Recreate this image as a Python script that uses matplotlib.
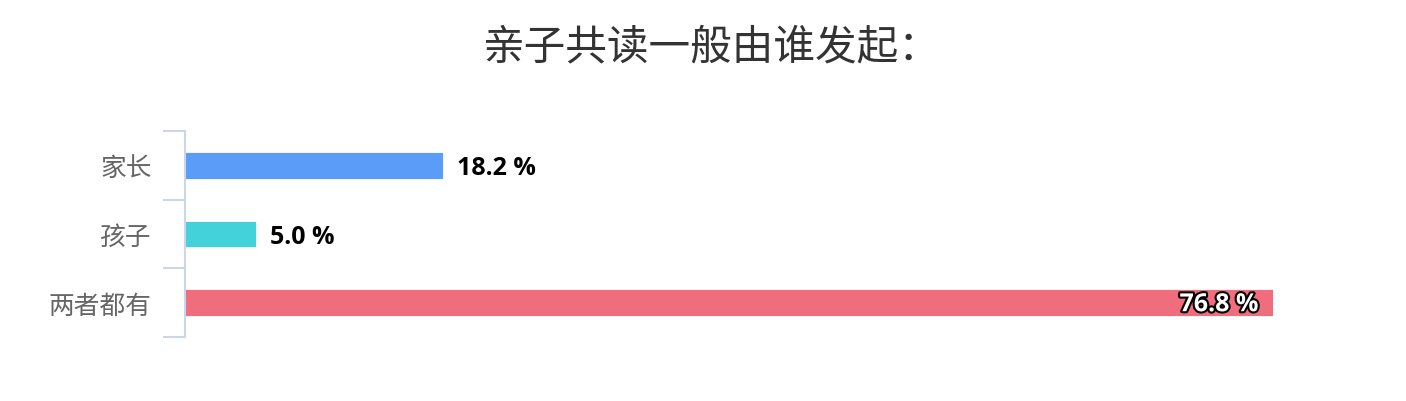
import matplotlib.pyplot as plt
import matplotlib.patheffects as pe

plt.rcParams['font.family'] = ['Noto Sans CJK SC', 'DejaVu Sans']

categories = ['家长', '孩子', '两者都有']
values = [18.2, 5.0, 76.8]
colors = ['#5a9cf8', '#43d1da', '#f06d7e']
title = '亲子共读一般由谁发起：'

fig = plt.figure(figsize=(14.06, 4.02), dpi=100)
ax = fig.add_axes([185 / 1406, 1 - 338 / 402, (1273 - 185) / 1406, (338 - 132) / 402])

y = list(range(len(categories)))
ax.barh(y, values, height=0.39, color=colors, edgecolor='white', linewidth=0.6)
ax.set_ylim(len(categories) - 0.5, -0.5)
ax.set_xlim(0, max(values))

ax.set_yticks(y)
ax.set_yticklabels(categories, fontsize=18.5, color='#666666')
ax.set_yticks([i - 0.5 for i in range(len(categories) + 1)], minor=True)
ax.tick_params(axis='y', which='major', length=0, pad=24)
ax.tick_params(axis='y', which='minor', length=16, width=1.5, color='#ccd6eb')
ax.set_xticks([])
for s in ['top', 'right', 'bottom']:
    ax.spines[s].set_visible(False)
ax.spines['left'].set_color('#ccd6eb')
ax.spines['left'].set_linewidth(1.5)

vmax = max(values)
for yi, v in zip(y, values):
    label = f'{v:.1f} %'
    if v == vmax:
        ax.text(v - 1.05, yi + 0.03, label, ha='right', va='center', fontsize=18,
                fontweight='bold', family=['Open Sans', 'DejaVu Sans'], color='white',
                path_effects=[pe.withStroke(linewidth=3, foreground='black')])
    else:
        ax.text(v + 1.0, yi + 0.03, label, ha='left', va='center', fontsize=18,
                fontweight='bold', family=['Open Sans', 'DejaVu Sans'], color='black')

fig.text(711 / 1406, 1 - 48 / 402, title, ha='center', va='center', fontsize=30, color='#333333')

fig.savefig('out.png', dpi=100)
